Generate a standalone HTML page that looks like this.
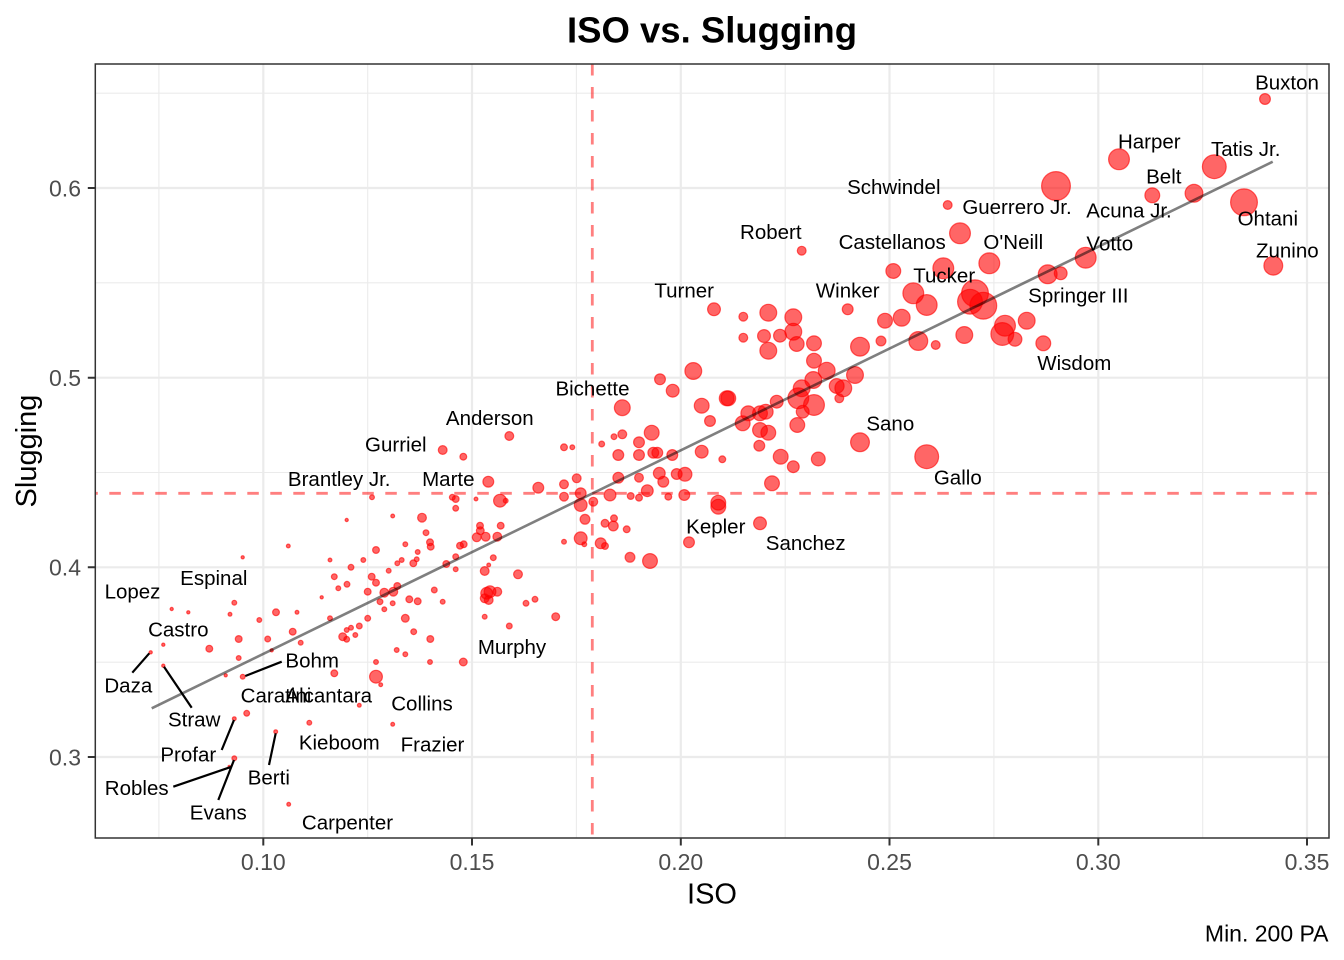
<!DOCTYPE html>
<html>
<head>
<meta charset="utf-8">
<style>
html,body{margin:0;padding:0;background:#fff;}
svg{display:block;}
text{font-family:"Liberation Sans",Arial,Helvetica,sans-serif;}
</style>
</head>
<body>
<svg width="1344" height="960" viewBox="0 0 1344 960" xmlns="http://www.w3.org/2000/svg">
<defs><circle id="d" r="1"/></defs>
<rect x="0" y="0" width="1344" height="960" fill="#fff"/>
<g stroke="#ebebeb" stroke-width="1.1">
<path d="M158.9 64V838M367.7 64V838M576.4 64V838M785.2 64V838M993.9 64V838M1202.7 64V838M95.3 93.2H1329M95.3 282.8H1329M95.3 472.5H1329M95.3 662.2H1329"/>
</g>
<g stroke="#ebebeb" stroke-width="2.2">
<path d="M263.3 64V838M472 64V838M680.8 64V838M889.5 64V838M1098.3 64V838M1307 64V838M95.3 188H1329M95.3 377.7H1329M95.3 567.3H1329M95.3 757H1329"/>
</g>
<g stroke="rgba(255,0,0,0.5)" stroke-width="2.8" stroke-dasharray="11.5 11.5">
<line x1="592.3" y1="64" x2="592.3" y2="838"/>
<line x1="95.3" y1="493.3" x2="1329" y2="493.3" stroke-dashoffset="9"/>
</g>
<g fill="rgba(255,0,0,0.6)" stroke="rgba(255,0,0,0.6)" stroke-width="1.2">
<circle cx="242.7" cy="557.3" r="1.6"/><circle cx="171.7" cy="609" r="1.6"/><circle cx="188.3" cy="612.3" r="1.6"/><circle cx="234.3" cy="602.7" r="2.4"/><circle cx="230" cy="614.3" r="1.9"/><circle cx="276" cy="612.3" r="3.4"/><circle cx="259.3" cy="620" r="2.4"/><circle cx="238.7" cy="639" r="3.4"/><circle cx="267.7" cy="639" r="2.9"/><circle cx="271.7" cy="650.3" r="1.6"/>
<circle cx="209.3" cy="648.7" r="3.4"/><circle cx="238.7" cy="658" r="2.4"/><circle cx="163.3" cy="644.7" r="1.6"/><circle cx="150.7" cy="652.3" r="1.6"/><circle cx="163.3" cy="665.7" r="1.6"/><circle cx="225.7" cy="675.3" r="1.6"/><circle cx="242.7" cy="676.7" r="2.4"/><circle cx="246.7" cy="713.3" r="2.9"/><circle cx="234.3" cy="718.7" r="1.9"/><circle cx="275.7" cy="731.7" r="1.9"/>
<circle cx="234.3" cy="758.3" r="2.4"/><circle cx="229.3" cy="766.7" r="1.3"/><circle cx="334.3" cy="673.3" r="3.4"/><circle cx="376" cy="676.7" r="6.4"/><circle cx="380.7" cy="684.7" r="1.9"/><circle cx="309.3" cy="722.7" r="2.4"/><circle cx="359.3" cy="705.3" r="1.9"/><circle cx="392.7" cy="724.3" r="1.9"/><circle cx="288.7" cy="804.3" r="1.9"/><circle cx="463.3" cy="662" r="3.9"/>
<circle cx="430" cy="662" r="2.4"/><circle cx="376" cy="662" r="2.4"/>
<circle cx="509.3" cy="436" r="4.4"/><circle cx="442.7" cy="450" r="4.4"/><circle cx="463.3" cy="456.7" r="3.4"/><circle cx="488.3" cy="481.7" r="5.4"/><circle cx="538.3" cy="487.7" r="5.4"/><circle cx="452.3" cy="497.3" r="2.9"/><circle cx="455.7" cy="499" r="3.4"/><circle cx="476" cy="499" r="1.9"/><circle cx="500" cy="500.7" r="6.4"/><circle cx="505.7" cy="500.7" r="2.4"/>
<circle cx="372" cy="497.3" r="2.4"/><circle cx="455.7" cy="508.3" r="2.9"/><circle cx="392.7" cy="516" r="1.9"/><circle cx="422" cy="517.7" r="4.4"/><circle cx="346.7" cy="520" r="1.6"/><circle cx="426" cy="532.7" r="2.9"/><circle cx="430" cy="542.3" r="3.4"/><circle cx="430.7" cy="546.7" r="3.4"/><circle cx="405.3" cy="544.3" r="2.4"/><circle cx="376" cy="550" r="3.4"/>
<circle cx="480" cy="525.7" r="3.4"/><circle cx="480.3" cy="530.7" r="3.9"/><circle cx="476.7" cy="537.3" r="4.4"/><circle cx="485.7" cy="536.7" r="4.4"/><circle cx="497.3" cy="536.7" r="4.4"/><circle cx="500.7" cy="525.7" r="3.4"/><circle cx="460" cy="545.7" r="3.4"/><circle cx="463.7" cy="544.3" r="3.4"/><circle cx="417.7" cy="552" r="2.4"/><circle cx="416.7" cy="559.3" r="2.4"/>
<circle cx="413.3" cy="563.3" r="3.4"/><circle cx="397.3" cy="563.3" r="2.4"/><circle cx="401.7" cy="560" r="2.4"/><circle cx="388.7" cy="570.7" r="2.4"/><circle cx="363.3" cy="560" r="2.4"/><circle cx="351" cy="567.3" r="2.9"/><circle cx="334.3" cy="576.7" r="2.9"/><circle cx="330" cy="560" r="1.9"/><circle cx="347" cy="584.3" r="2.9"/><circle cx="338.3" cy="588.3" r="2.4"/>
<circle cx="371.7" cy="576.7" r="3.4"/><circle cx="376" cy="582.7" r="3.4"/><circle cx="367.7" cy="591.7" r="3.4"/><circle cx="384.3" cy="592.7" r="4.4"/><circle cx="393.3" cy="591.7" r="4.4"/><circle cx="397.3" cy="586" r="3.4"/><circle cx="380" cy="601.7" r="2.9"/><circle cx="384.3" cy="609.3" r="2.4"/><circle cx="392.7" cy="603.3" r="2.4"/><circle cx="409.3" cy="599.3" r="3.4"/>
<circle cx="417.7" cy="601.3" r="3.4"/><circle cx="434.3" cy="590" r="2.9"/><circle cx="442.7" cy="601.7" r="2.4"/><circle cx="446.3" cy="564" r="3.4"/><circle cx="455.7" cy="556.7" r="2.9"/><circle cx="455.7" cy="569.3" r="2.4"/><circle cx="484.7" cy="571" r="4.4"/><circle cx="488.7" cy="565" r="1.9"/><circle cx="493.3" cy="557.7" r="2.9"/><circle cx="518" cy="574.3" r="4.4"/>
<circle cx="486.7" cy="593.3" r="5.9"/><circle cx="490" cy="591.7" r="5.9"/><circle cx="497.3" cy="591.7" r="4.4"/><circle cx="484.7" cy="598.3" r="4.4"/><circle cx="488.7" cy="600" r="4.4"/><circle cx="526" cy="603.3" r="2.9"/><circle cx="535" cy="599.3" r="2.9"/><circle cx="555.7" cy="616.7" r="3.9"/><circle cx="484.7" cy="616.7" r="2.4"/><circle cx="509.3" cy="626" r="2.9"/>
<circle cx="330" cy="618.3" r="2.4"/><circle cx="321.7" cy="597.3" r="1.6"/><circle cx="297" cy="612.3" r="1.9"/><circle cx="288.3" cy="546" r="1.9"/><circle cx="292.7" cy="631.7" r="3.4"/><circle cx="300.7" cy="642.7" r="2.4"/><circle cx="359.3" cy="626" r="2.9"/><circle cx="351" cy="627.7" r="2.4"/><circle cx="346.7" cy="630" r="2.4"/><circle cx="342.7" cy="636.7" r="3.9"/>
<circle cx="346.7" cy="639.3" r="2.9"/><circle cx="355.3" cy="635" r="2.4"/><circle cx="367.7" cy="618.3" r="2.9"/><circle cx="405.3" cy="618.3" r="3.9"/><circle cx="413.7" cy="631.7" r="2.9"/><circle cx="430.3" cy="639" r="3.4"/><circle cx="396.7" cy="650" r="2.4"/><circle cx="405.3" cy="654.3" r="2.4"/>
<circle cx="714" cy="309.3" r="6.4"/><circle cx="743.3" cy="316.7" r="4.4"/><circle cx="768.3" cy="312.7" r="8.4"/><circle cx="793.3" cy="317.3" r="8.4"/><circle cx="743.3" cy="337.7" r="4.4"/><circle cx="764" cy="336" r="6.4"/><circle cx="780" cy="335.7" r="6.4"/><circle cx="793.3" cy="331.7" r="8.4"/><circle cx="796.7" cy="344" r="7.4"/><circle cx="768.3" cy="350.7" r="8.4"/>
<circle cx="814" cy="343.3" r="7.4"/><circle cx="814" cy="360.7" r="7.4"/><circle cx="826.7" cy="370.7" r="8.4"/><circle cx="847.7" cy="309.3" r="5.4"/><circle cx="885" cy="320.7" r="7.4"/><circle cx="901.7" cy="317.7" r="8.4"/><circle cx="860" cy="346.7" r="9.4"/><circle cx="881" cy="341" r="4.9"/><circle cx="918.3" cy="341" r="9.4"/><circle cx="935.7" cy="345" r="4.4"/>
<circle cx="964.3" cy="335" r="8.4"/><circle cx="913.3" cy="293.3" r="10.4"/><circle cx="926.7" cy="305" r="10.4"/><circle cx="855" cy="375" r="8.4"/><circle cx="843.3" cy="388.3" r="8.4"/><circle cx="836.7" cy="386" r="7.4"/><circle cx="839.3" cy="398.3" r="4.4"/><circle cx="813.3" cy="380" r="8.4"/><circle cx="801.7" cy="388.3" r="8.4"/><circle cx="798.3" cy="398.3" r="10.4"/>
<circle cx="814" cy="405" r="10.4"/><circle cx="802.7" cy="411.7" r="6.4"/><circle cx="797.3" cy="425" r="7.4"/><circle cx="776.7" cy="401.7" r="6.4"/><circle cx="760" cy="413.3" r="7.4"/><circle cx="765.7" cy="411.7" r="7.4"/><circle cx="748.3" cy="413.3" r="7.4"/><circle cx="742.7" cy="423.3" r="7.4"/><circle cx="760" cy="430" r="7.4"/><circle cx="768.3" cy="432.7" r="7.4"/>
<circle cx="759.3" cy="445.7" r="5.4"/><circle cx="780.7" cy="456.7" r="7.4"/><circle cx="793.3" cy="466.7" r="5.9"/><circle cx="818.3" cy="459" r="6.9"/><circle cx="772" cy="483.3" r="7.4"/><circle cx="726.7" cy="398.3" r="7.4"/><circle cx="728.3" cy="398.3" r="7.4"/><circle cx="701.7" cy="405.7" r="7.4"/><circle cx="710" cy="421" r="5.4"/><circle cx="693.3" cy="371" r="8.4"/>
<circle cx="672.7" cy="390.7" r="6.4"/><circle cx="660" cy="379.3" r="5.4"/><circle cx="622.3" cy="407.7" r="7.9"/><circle cx="564" cy="447.3" r="3.4"/><circle cx="572.3" cy="447.3" r="2.4"/><circle cx="601.7" cy="444" r="2.9"/><circle cx="614" cy="436.7" r="2.9"/><circle cx="622.3" cy="434.3" r="4.4"/><circle cx="639" cy="442.3" r="5.4"/><circle cx="651.7" cy="432.7" r="7.4"/>
<circle cx="618.3" cy="455" r="5.4"/><circle cx="639" cy="455" r="5.4"/><circle cx="653.3" cy="452.7" r="5.4"/><circle cx="657.3" cy="452.7" r="5.4"/><circle cx="672.3" cy="455" r="5.4"/><circle cx="564" cy="484.3" r="4.4"/><circle cx="564" cy="496.7" r="4.4"/><circle cx="576.7" cy="478.3" r="4.4"/><circle cx="580.7" cy="493.3" r="5.4"/><circle cx="580.7" cy="505" r="6.4"/>
<circle cx="593.3" cy="501.7" r="4.4"/><circle cx="585" cy="519.3" r="4.9"/><circle cx="618.3" cy="477.7" r="5.4"/><circle cx="639" cy="477.7" r="4.4"/><circle cx="610" cy="495" r="5.9"/><circle cx="630.7" cy="496" r="3.4"/><circle cx="639" cy="497.7" r="3.4"/><circle cx="647.3" cy="490.7" r="5.9"/><circle cx="659.3" cy="473.3" r="5.9"/><circle cx="663.3" cy="481.7" r="5.4"/>
<circle cx="676.7" cy="474" r="5.4"/><circle cx="685" cy="474.3" r="6.9"/><circle cx="668.3" cy="496.7" r="3.4"/><circle cx="684.3" cy="495" r="5.4"/><circle cx="701.7" cy="451.7" r="6.4"/><circle cx="722.3" cy="459.3" r="3.4"/><circle cx="718.3" cy="502.7" r="7.4"/><circle cx="718.3" cy="506.7" r="7.4"/><circle cx="760" cy="523.3" r="6.4"/><circle cx="650" cy="561" r="7.4"/>
<circle cx="630" cy="557.3" r="4.9"/><circle cx="605" cy="523.3" r="3.9"/><circle cx="614" cy="518.3" r="3.4"/><circle cx="613.3" cy="526" r="4.9"/><circle cx="626.7" cy="529.3" r="3.4"/><circle cx="580.7" cy="538.3" r="6.4"/><circle cx="600.7" cy="543.3" r="5.4"/><circle cx="605" cy="546" r="3.4"/><circle cx="584.3" cy="544.3" r="2.4"/><circle cx="564" cy="541.7" r="2.4"/>
<circle cx="689" cy="542.3" r="5.4"/><circle cx="860" cy="442.3" r="9.4"/><circle cx="926.7" cy="456.7" r="11.9"/>
<circle cx="1265" cy="99" r="5.4"/><circle cx="1119" cy="159.3" r="10.4"/><circle cx="1214.3" cy="166.7" r="11.9"/><circle cx="1056" cy="186" r="14.4"/><circle cx="1152.3" cy="195.3" r="7.4"/><circle cx="1194" cy="193.3" r="8.9"/><circle cx="1244" cy="202.3" r="13.4"/><circle cx="947.7" cy="205" r="4.4"/><circle cx="960" cy="233.3" r="10.4"/><circle cx="989.3" cy="263.3" r="10.4"/>
<circle cx="943.3" cy="268.3" r="10.4"/><circle cx="893.3" cy="271" r="7.4"/><circle cx="1273.3" cy="265.7" r="9.4"/><circle cx="1085.7" cy="257.7" r="10.4"/><circle cx="1047.7" cy="274.3" r="9.4"/><circle cx="1060.7" cy="273.3" r="6.4"/><circle cx="975" cy="293.3" r="13.4"/><circle cx="970" cy="301.7" r="12.4"/><circle cx="983.3" cy="305.7" r="13.4"/><circle cx="1005" cy="325.7" r="10.4"/>
<circle cx="1002.3" cy="334" r="11.4"/><circle cx="1015" cy="339.3" r="6.9"/><circle cx="1026.7" cy="320.7" r="8.4"/><circle cx="1043.3" cy="343.3" r="7.4"/><circle cx="801.7" cy="250.7" r="4.4"/>
</g>
<line x1="151.7" y1="708.3" x2="1272.7" y2="161.7" stroke="rgba(0,0,0,0.5)" stroke-width="2.6"/>
<g stroke="#000" stroke-width="2.2">
<path d="M149.3 653.3L132.3 672.7M164 666.7L191.7 707.7M245.3 676L281.7 661.7M234 720L221.7 750M173.3 786.7L231.7 766.7M234 760L218.3 800M275.7 733.3L269 765"/>
</g>
<g font-size="20.5" fill="#000" text-anchor="middle">
<text x="1287" y="89.3">Buxton</text>
<text x="1149.3" y="148.3">Harper</text>
<text x="1245.7" y="156">Tatis Jr.</text>
<text x="893.8" y="194">Schwindel</text>
<text x="1163.8" y="183.3">Belt</text>
<text x="1017" y="214">Guerrero Jr.</text>
<text x="1129" y="217.7">Acuna Jr.</text>
<text x="1267.8" y="225.7">Ohtani</text>
<text x="892.2" y="249">Castellanos</text>
<text x="1013.3" y="249">O'Neill</text>
<text x="1109.8" y="250.7">Votto</text>
<text x="1287.3" y="257.7">Zunino</text>
<text x="944.2" y="282.3">Tucker</text>
<text x="847.7" y="297.3">Winker</text>
<text x="1078.3" y="302.3">Springer III</text>
<text x="1074.3" y="370">Wisdom</text>
<text x="770.8" y="239">Robert</text>
<text x="684.2" y="297.3">Turner</text>
<text x="592.5" y="395.7">Bichette</text>
<text x="890.3" y="430.7">Sano</text>
<text x="957.8" y="484.3">Gallo</text>
<text x="715.8" y="533.3">Kepler</text>
<text x="805.7" y="550">Sanchez</text>
<text x="489.8" y="425">Anderson</text>
<text x="395.8" y="451.7">Gurriel</text>
<text x="339.2" y="486">Brantley Jr.</text>
<text x="448.3" y="486">Marte</text>
<text x="512" y="654">Murphy</text>
<text x="132.5" y="598.3">Lopez</text>
<text x="213.8" y="585">Espinal</text>
<text x="178.3" y="636.7">Castro</text>
<text x="128.3" y="692.7">Daza</text>
<text x="194.2" y="726.7">Straw</text>
<text x="312.2" y="667.7">Bohm</text>
<text x="276" y="702.3">Caratini</text>
<text x="328.7" y="702.3">Alcantara</text>
<text x="422" y="710.7">Collins</text>
<text x="188.3" y="761.7">Profar</text>
<text x="339.3" y="749.3">Kieboom</text>
<text x="432.5" y="751.7">Frazier</text>
<text x="136.7" y="795">Robles</text>
<text x="268.8" y="784.3">Berti</text>
<text x="218.3" y="819.3">Evans</text>
<text x="347.5" y="829.3">Carpenter</text>
</g>
<rect x="95.3" y="64" width="1233.7" height="774" fill="none" stroke="#333333" stroke-width="1.5"/>
<g stroke="#333333" stroke-width="2">
<path d="M263.3 838V845.5M472 838V845.5M680.8 838V845.5M889.5 838V845.5M1098.3 838V845.5M1307 838V845.5M87.8 188H95.3M87.8 377.7H95.3M87.8 567.3H95.3M87.8 757H95.3"/>
</g>
<g font-size="23" fill="#4d4d4d" text-anchor="middle">
<text x="263.3" y="870">0.10</text>
<text x="472" y="870">0.15</text>
<text x="680.8" y="870">0.20</text>
<text x="889.5" y="870">0.25</text>
<text x="1098.3" y="870">0.30</text>
<text x="1307" y="870">0.35</text>
</g>
<g font-size="23" fill="#4d4d4d" text-anchor="end">
<text x="81" y="196.3">0.6</text>
<text x="81" y="386">0.5</text>
<text x="81" y="575.6">0.4</text>
<text x="81" y="765.3">0.3</text>
</g>
<text x="712" y="903.4" font-size="29" text-anchor="middle" fill="#000">ISO</text>
<text transform="translate(36,451) rotate(-90)" font-size="29" text-anchor="middle" fill="#000">Slugging</text>
<text x="712" y="42.7" font-size="36.5" font-weight="bold" text-anchor="middle" fill="#000">ISO vs. Slugging</text>
<text x="1328.5" y="941.7" font-size="23" text-anchor="end" fill="#000">Min. 200 PA</text>
</svg>
</body>
</html>
